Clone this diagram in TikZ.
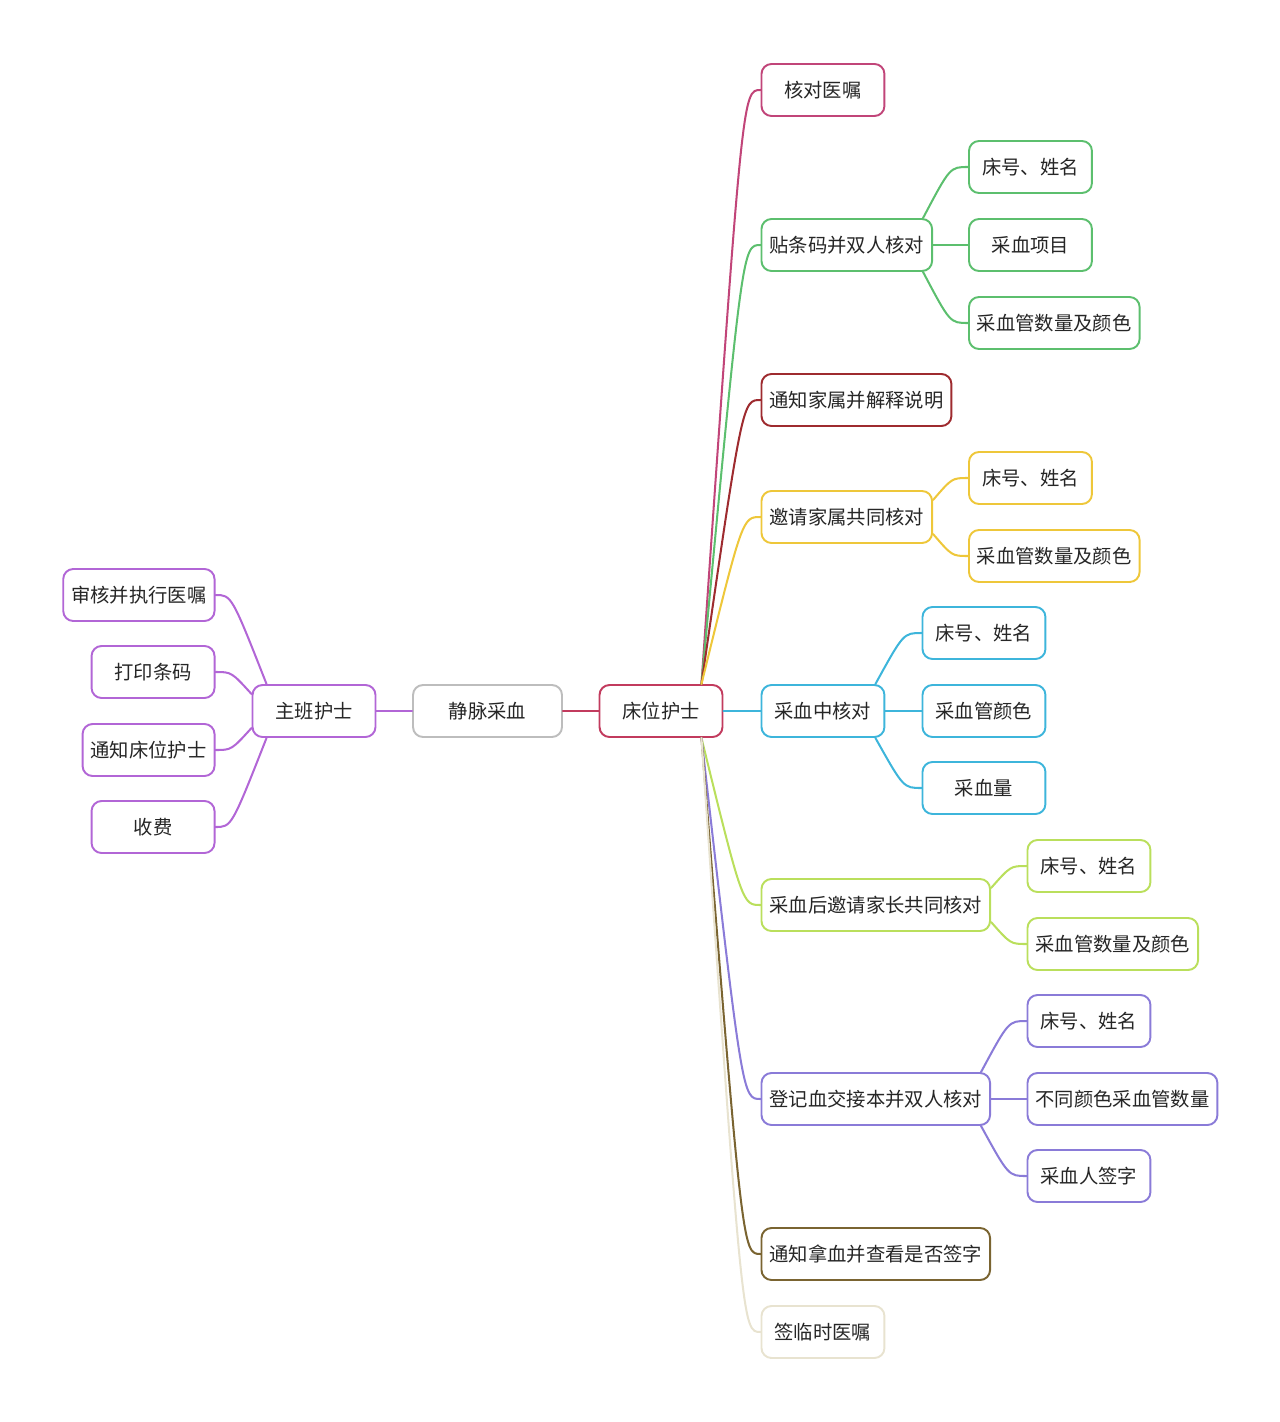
\documentclass[tikz,border=0pt]{standalone}
\usepackage{fontspec}
\newfontfamily\cjk{Noto Sans CJK SC}
\usetikzlibrary{calc}

\definecolor{violetc}{HTML}{B266D6}
\definecolor{grayc}{HTML}{BDBDBD}
\definecolor{bedc}{HTML}{C23B5E}
\definecolor{pinkc}{HTML}{C14579}
\definecolor{greenc}{HTML}{5CBF6E}
\definecolor{darkredc}{HTML}{9E2B2F}
\definecolor{yellowc}{HTML}{EEC73A}
\definecolor{bluec}{HTML}{3DB5DB}
\definecolor{limec}{HTML}{BADF5C}
\definecolor{purplec}{HTML}{8A7BD8}
\definecolor{brownc}{HTML}{7A6431}
\definecolor{beigec}{HTML}{E8E3D0}

\tikzset{
  topic/.style={draw=#1, rounded corners=0.2cm, line width=1.1pt, fill=white,
    minimum width=2.46cm, minimum height=1.04cm, inner xsep=0.16cm,
    font=\cjk\fontsize{11pt}{13pt}\selectfont, text=black!85},
  branch/.style={draw=#1, line width=1.15pt, line cap=round},
}

\begin{document}
\begin{tikzpicture}[x=0.02cm, y=-0.02cm, line join=round]
\useasboundingbox (0,0) rectangle (1280,1422);

% centro
\node[topic=grayc, minimum width=2.98cm] (root) at (487.5,711) {静脉采血};
\node[topic=violetc] (nurse) at (314,711) {主班护士};
\node[topic=bedc] (bed) at (661,711) {床位护士};

% sinistra: compiti del 主班护士
\node[topic=violetc, anchor=east] (a1) at (215.5,595) {审核并执行医嘱};
\node[topic=violetc, anchor=east] (a2) at (215.5,672) {打印条码};
\node[topic=violetc, anchor=east] (a3) at (215.5,750) {通知床位护士};
\node[topic=violetc, anchor=east] (a4) at (215.5,827) {收费};

% destra: primo livello
\node[topic=pinkc, anchor=west] (b1) at (760.5,90) {核对医嘱};
\node[topic=greenc, anchor=west] (b2) at (760.5,245) {贴条码并双人核对};
\node[topic=darkredc, anchor=west] (b3) at (760.5,400) {通知家属并解释说明};
\node[topic=yellowc, anchor=west] (b4) at (760.5,517) {邀请家属共同核对};
\node[topic=bluec, anchor=west] (b5) at (760.5,711) {采血中核对};
\node[topic=limec, anchor=west] (b6) at (760.5,905) {采血后邀请家长共同核对};
\node[topic=purplec, anchor=west] (b7) at (760.5,1099) {登记血交接本并双人核对};
\node[topic=brownc, anchor=west] (b8) at (760.5,1254) {通知拿血并查看是否签字};
\node[topic=beigec, anchor=west] (b9) at (760.5,1332) {签临时医嘱};

% secondo livello
\node[topic=greenc, anchor=west] (g1) at (968,167) {床号、姓名};
\node[topic=greenc, anchor=west] (g2) at (968,245) {采血项目};
\node[topic=greenc, anchor=west] (g3) at (968,323) {采血管数量及颜色};
\node[topic=yellowc, anchor=west] (y1) at (968,478) {床号、姓名};
\node[topic=yellowc, anchor=west] (y2) at (968,556) {采血管数量及颜色};
\node[topic=bluec, anchor=west] (c1) at (921.5,633) {床号、姓名};
\node[topic=bluec, anchor=west] (c2) at (921.5,711) {采血管颜色};
\node[topic=bluec, anchor=west] (c3) at (921.5,788) {采血量};
\node[topic=limec, anchor=west] (l1) at (1026.5,866) {床号、姓名};
\node[topic=limec, anchor=west] (l2) at (1026.5,944) {采血管数量及颜色};
\node[topic=purplec, anchor=west] (p1) at (1026.5,1021) {床号、姓名};
\node[topic=purplec, anchor=west] (p2) at (1026.5,1099) {不同颜色采血管数量};
\node[topic=purplec, anchor=west] (p3) at (1026.5,1176) {采血人签字};

% punti di partenza dei rami
\coordinate (bedT) at ([xshift=-0.44cm]bed.north east);
\coordinate (bedB) at ([xshift=-0.44cm]bed.south east);

% rami centrali
\draw[branch=violetc] (nurse) -- (root);
\draw[branch=bedc] (root) -- (bed);

% rami a sinistra
\draw[branch=violetc] ([xshift=0.3cm]nurse.north west) .. controls ($(a1.east)+(16,0)$) .. (a1.east);
\draw[branch=violetc] ([yshift=-0.2cm]nurse.north west) .. controls ($(a2.east)+(16,0)$) .. (a2.east);
\draw[branch=violetc] ([yshift=0.2cm]nurse.south west) .. controls ($(a3.east)+(16,0)$) .. (a3.east);
\draw[branch=violetc] ([xshift=0.3cm]nurse.south west) .. controls ($(a4.east)+(16,0)$) .. (a4.east);

% rami del 床位护士
\draw[branch=pinkc] (bedT) .. controls ($(b1.west)+(-18,0)$) .. (b1.west);
\draw[branch=greenc] (bedT) .. controls ($(b2.west)+(-18,0)$) .. (b2.west);
\draw[branch=darkredc] (bedT) .. controls ($(b3.west)+(-18,0)$) .. (b3.west);
\draw[branch=yellowc] (bedT) .. controls ($(b4.west)+(-18,0)$) .. (b4.west);
\draw[branch=bluec] (bed.east) -- (b5.west);
\draw[branch=limec] (bedB) .. controls ($(b6.west)+(-18,0)$) .. (b6.west);
\draw[branch=purplec] (bedB) .. controls ($(b7.west)+(-18,0)$) .. (b7.west);
\draw[branch=brownc] (bedB) .. controls ($(b8.west)+(-18,0)$) .. (b8.west);
\draw[branch=beigec] (bedB) .. controls ($(b9.west)+(-18,0)$) .. (b9.west);

% rami di secondo livello
\draw[branch=greenc] ([xshift=-0.2cm]b2.north east) .. controls ($(g1.west)+(-18,0)$) .. (g1.west);
\draw[branch=greenc] (b2.east) -- (g2.west);
\draw[branch=greenc] ([xshift=-0.2cm]b2.south east) .. controls ($(g3.west)+(-18,0)$) .. (g3.west);
\draw[branch=yellowc] ([yshift=-0.2cm]b4.north east) .. controls ($(y1.west)+(-16,0)$) .. (y1.west);
\draw[branch=yellowc] ([yshift=0.2cm]b4.south east) .. controls ($(y2.west)+(-16,0)$) .. (y2.west);
\draw[branch=bluec] ([xshift=-0.2cm]b5.north east) .. controls ($(c1.west)+(-18,0)$) .. (c1.west);
\draw[branch=bluec] (b5.east) -- (c2.west);
\draw[branch=bluec] ([xshift=-0.2cm]b5.south east) .. controls ($(c3.west)+(-18,0)$) .. (c3.west);
\draw[branch=limec] ([yshift=-0.2cm]b6.north east) .. controls ($(l1.west)+(-16,0)$) .. (l1.west);
\draw[branch=limec] ([yshift=0.2cm]b6.south east) .. controls ($(l2.west)+(-16,0)$) .. (l2.west);
\draw[branch=purplec] ([xshift=-0.2cm]b7.north east) .. controls ($(p1.west)+(-18,0)$) .. (p1.west);
\draw[branch=purplec] (b7.east) -- (p2.west);
\draw[branch=purplec] ([xshift=-0.2cm]b7.south east) .. controls ($(p3.west)+(-18,0)$) .. (p3.west);
\end{tikzpicture}
\end{document}
